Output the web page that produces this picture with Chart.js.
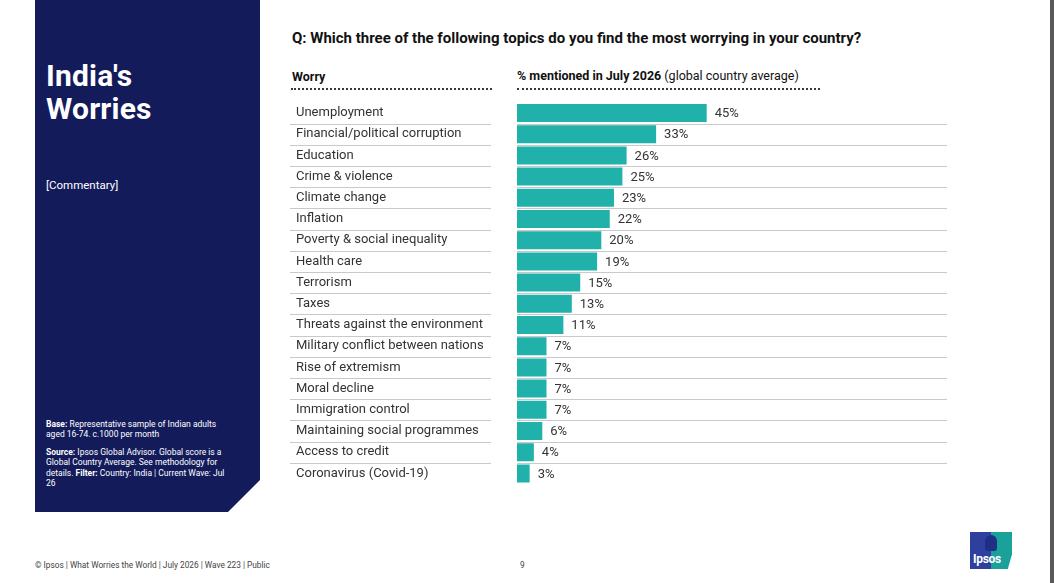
<!DOCTYPE html>
<html>
<head>
<meta charset="utf-8">
<script src="https://cdn.jsdelivr.net/npm/chart.js@4.4.0/dist/chart.umd.min.js"></script>
<style>
  html,body{margin:0;padding:0;background:#fff;}
  body{width:1054px;height:583px;position:relative;overflow:hidden;font-family:Roboto,"DejaVu Sans",sans-serif;}
  .panel{position:absolute;left:35px;top:0;width:225px;height:512px;background:#131b5a;
    clip-path:polygon(0 0,225px 0,225px 480px,193px 512px,0 512px);}
  .ptitle{position:absolute;left:46px;top:59px;color:#fff;font-weight:700;font-size:30px;line-height:33px;letter-spacing:0.2px;}
  .comment{position:absolute;left:46px;top:178px;color:#fff;font-size:11.5px;}
  .base{position:absolute;left:46px;top:419px;color:#fff;font-size:8.5px;line-height:10.4px;white-space:nowrap;}
  .base p{margin:0 0 7px 0;}
  .q{position:absolute;left:292px;top:29px;font-weight:700;font-size:15px;color:#111;white-space:nowrap;}
  .h1{position:absolute;left:292px;top:69px;font-weight:700;font-size:12.5px;color:#111;}
  .h2{position:absolute;left:517px;top:68px;font-size:12.5px;color:#111;white-space:nowrap;}
  .h2 b{font-weight:700;}
  .dot{position:absolute;height:0;border-top:2px dotted #3a3a3a;top:88px;}
  .foot{position:absolute;left:35px;top:560px;font-size:8.3px;color:#444;white-space:nowrap;}
  .pg{position:absolute;left:520px;top:560px;font-size:8.3px;color:#444;}
  .edge{position:absolute;left:1050px;top:0;width:4px;height:583px;background:#5a5a5a;}
  .logo{position:absolute;left:970px;top:532px;width:42px;height:37px;overflow:hidden;}
  .logo .l{position:absolute;left:0;top:0;width:21px;height:37px;background:#2f3f9e;}
  .logo .r{position:absolute;left:21px;top:0;width:21px;height:37px;background:#1aa19a;clip-path:polygon(0 0,100% 0,100% 60%,80% 100%,0 100%);}
  .logo .h{position:absolute;left:15px;top:3px;width:12px;height:16px;border-radius:6px 6px 3px 3px;background:#1f2f85;}
  .logo .t{position:absolute;left:3px;top:20px;color:#fff;font-weight:700;font-size:12px;letter-spacing:-0.3px;}
  #wrap{position:absolute;left:286px;top:100px;width:680px;height:390px;}
</style>
</head>
<body>
<div class="panel"></div>
<div class="ptitle">India's<br>Worries</div>
<div class="comment">[Commentary]</div>
<div class="base">
  <p><b>Base:</b> Representative sample of Indian adults<br>aged 16-74. c.1000 per month</p>
  <p><b>Source:</b> Ipsos Global Advisor. Global score is a<br>Global Country Average. See methodology for<br>details. <b>Filter:</b> Country: India | Current Wave: Jul<br>26</p>
</div>
<div class="q">Q: Which three of the following topics do you find the most worrying in your country?</div>
<div class="h1">Worry</div>
<div class="h2"><b>% mentioned in July 2026</b> (global country average)</div>
<div class="dot" style="left:291px;width:201px;"></div>
<div class="dot" style="left:517px;width:303px;"></div>
<div id="wrap"><canvas id="c"></canvas></div>
<div class="foot">© Ipsos | What Worries the World | July 2026 | Wave 223 | Public</div>
<div class="pg">9</div>
<div class="logo"><div class="l"></div><div class="r"></div><div class="h"></div><div class="t">Ipsos</div></div>
<div class="edge"></div>
<script>
const categories = [
  "Unemployment",
  "Financial/political corruption",
  "Education",
  "Crime & violence",
  "Climate change",
  "Inflation",
  "Poverty & social inequality",
  "Health care",
  "Terrorism",
  "Taxes",
  "Threats against the environment",
  "Military conflict between nations",
  "Rise of extremism",
  "Moral decline",
  "Immigration control",
  "Maintaining social programmes",
  "Access to credit",
  "Coronavirus (Covid-19)"
];
const values = [45, 33, 26, 25, 23, 22, 20, 19, 15, 13, 11, 7, 7, 7, 7, 6, 4, 3];
const valueLabels = values.map(v => v + "%");

const decor = {
  id: "decor",
  beforeDatasetsDraw(chart) {
    const ctx = chart.ctx, y = chart.scales.y, a = chart.chartArea;
    ctx.save();
    ctx.strokeStyle = "#c9c9c9";
    ctx.lineWidth = 1;
    for (let i = 0; i < categories.length - 1; i++) {
      const py = Math.round((y.getPixelForValue(i) + y.getPixelForValue(i + 1)) / 2) + 0.5;
      ctx.beginPath();
      ctx.moveTo(4, py); ctx.lineTo(205, py);
      ctx.moveTo(a.left, py); ctx.lineTo(a.right, py);
      ctx.stroke();
    }
    ctx.restore();
  },
  afterDatasetsDraw(chart) {
    const ctx = chart.ctx, meta = chart.getDatasetMeta(0);
    ctx.save();
    ctx.fillStyle = "#333";
    ctx.font = "13px Roboto";
    ctx.textBaseline = "middle";
    ctx.textAlign = "left";
    meta.data.forEach((bar, i) => {
      ctx.fillText(valueLabels[i], bar.x + 8, bar.y + 1);
    });
    ctx.restore();
  }
};

new Chart(document.getElementById("c"), {
  type: "bar",
  data: {
    labels: categories,
    datasets: [{
      data: values,
      backgroundColor: "#21b1ab",
      borderWidth: 0,
      categoryPercentage: 1,
      barPercentage: 0.85
    }]
  },
  options: {
    indexAxis: "y",
    responsive: true,
    maintainAspectRatio: false,
    animation: false,
    layout: { padding: { left: 10, right: 19, top: 2.4, bottom: 6 } },
    plugins: { legend: { display: false }, tooltip: { enabled: false } },
    scales: {
      x: { display: false, min: 0, max: 102 },
      y: {
        grid: { display: false },
        border: { display: false },
        afterFit: s => { s.width = 221; s.paddingTop = 0; s.paddingBottom = 0; },
        ticks: {
          crossAlign: "far",
          padding: 0,
          color: "#333",
          font: { family: "Roboto", size: 13 }
        }
      }
    }
  },
  plugins: [decor]
});
</script>
</body>
</html>
